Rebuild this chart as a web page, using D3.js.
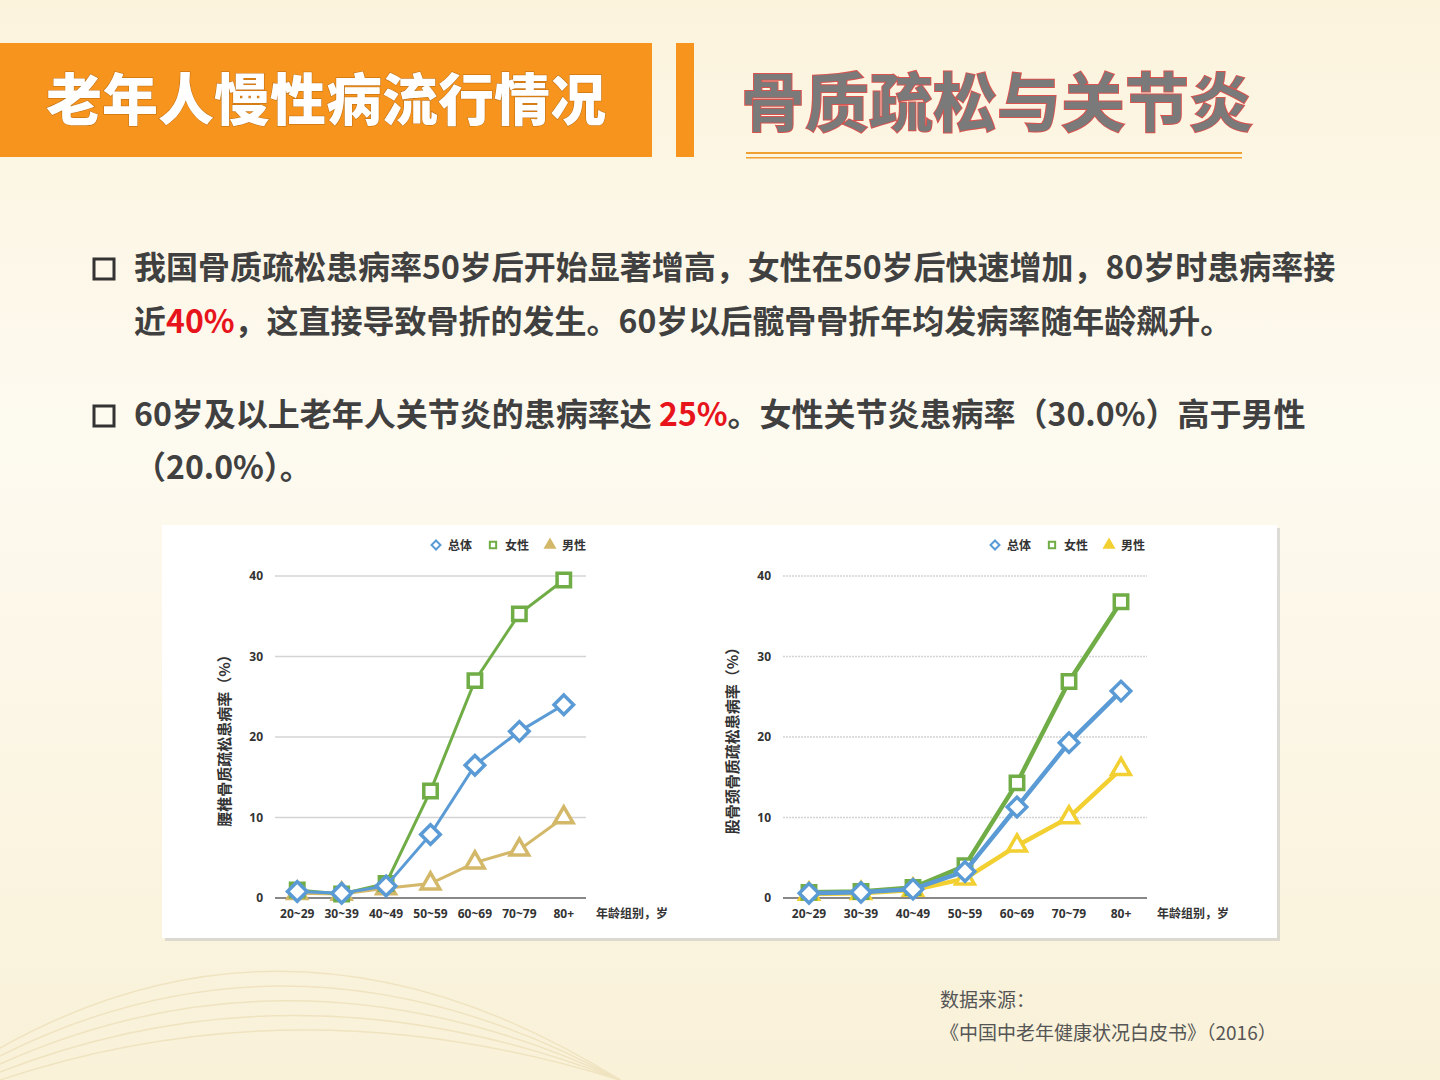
<!DOCTYPE html>
<html><head><meta charset="utf-8">
<script src="https://cdn.jsdelivr.net/npm/d3@7"></script>
<style>body{margin:0}svg{display:block}</style></head>
<body><svg id="c" width="1440" height="1080"></svg>
<script>
const ages = ['20-29','30-39','40-49','50-59','60-69','70-79','80+'];
const spineTotal = [0.8,0.6,1.5,7.9,16.5,20.7,24.0];
const spineFemale = [1.0,0.5,1.8,13.3,27.0,35.3,39.5];
const spineMale = [0.6,0.5,1.2,1.8,4.4,6.0,10.0];
const femurTotal = [0.6,0.7,1.1,3.3,11.3,19.3,25.7];
const femurFemale = [0.7,0.8,1.3,4.0,14.3,26.9,36.8];
const femurMale = [0.5,0.6,1.0,2.4,6.5,10.0,16.0];
const yTicks = [0,10,20,30,40];
const legendNames = ['总体','女性','男性'];

const svg = d3.select('#c');
const defs = svg.append('defs');
const bg = defs.append('linearGradient').attr('id','bg').attr('x1',0).attr('y1',0).attr('x2',0).attr('y2',1);
bg.append('stop').attr('offset','0%').attr('stop-color','#fbf3dc');
bg.append('stop').attr('offset','40%').attr('stop-color','#fdfaf0');
bg.append('stop').attr('offset','100%').attr('stop-color','#f9f1d8');
svg.append('rect').attr('width',1440).attr('height',1080).attr('fill','url(#bg)');
// faint decorative arcs
[0,1,2,3,4].forEach(i => svg.append('path')
  .attr('d',`M0 ${1080 - i*8} Q 300 ${980 - i*25} 620 1080`)
  .attr('fill','none').attr('stroke','#efe3c0').attr('stroke-width',1.5));

// header
svg.append('rect').attr('x',0).attr('y',43).attr('width',652).attr('height',114).attr('fill','#f7941d');
svg.append('rect').attr('x',676).attr('y',43).attr('width',18).attr('height',114).attr('fill','#f7941d');
svg.append('text').attr('x',46).attr('y',120).text('老年人慢性病流行情况')
  .attr('font-family','Noto Sans CJK SC').attr('font-weight',900).attr('font-size',56)
  .attr('fill','#fff').attr('stroke','#b86a10').attr('stroke-width',1).attr('paint-order','stroke');
svg.append('text').attr('x',741).attr('y',126).text('骨质疏松与关节炎')
  .attr('font-family','Noto Sans CJK SC').attr('font-weight',700).attr('font-size',64)
  .attr('fill','#7a7a7a').attr('stroke','#d9534f').attr('stroke-width',2).attr('paint-order','stroke');
svg.append('rect').attr('x',746).attr('y',152).attr('width',496).attr('height',2).attr('fill','#f0a030');
svg.append('rect').attr('x',746).attr('y',157).attr('width',496).attr('height',1.5).attr('fill','#f0a030');

// bullets
const bf = 'Noto Sans CJK SC';
function bullet(y){ svg.append('rect').attr('x',94).attr('y',y-20).attr('width',20).attr('height',20)
  .attr('fill','none').attr('stroke','#333').attr('stroke-width',3); }
function line(x,y,parts){
  const t = svg.append('text').attr('x',x).attr('y',y).attr('font-family',bf).attr('font-weight',700).attr('font-size',32).attr('fill','#404040');
  parts.forEach(p => t.append('tspan').text(p[0]).attr('fill',p[1]||'#404040'));
}
bullet(279);
line(134,279,[['我国骨质疏松患病率50岁后开始显著增高，女性在50岁后快速增加，80岁时患病率接']]);
line(134,333,[['近'],['40%','#e8141c'],['，这直接导致骨折的发生。60岁以后髋骨骨折年均发病率随年龄飙升。']]);
bullet(426);
line(134,426,[['60岁及以上老年人关节炎的患病率达 '],['25%','#e8141c'],['。女性关节炎患病率（30.0%）高于男性']]);
line(134,479,[['（20.0%）。']]);

// chart panel
svg.append('rect').attr('x',165).attr('y',528).attr('width',1115).attr('height',413).attr('fill','#c8c8c8').attr('opacity',0.6);
svg.append('rect').attr('x',162).attr('y',525).attr('width',1115).attr('height',413).attr('fill','#fff');

const colors = {total:'#5b9bd5', female:'#70ad47'};
function chart(o){
  const g = svg.append('g');
  const x = d3.scalePoint().domain(ages).range([o.x0,o.x1]).padding(0.5);
  const y = d3.scaleLinear().domain([0,40]).range([898,576]);
  yTicks.forEach(t => {
    g.append('line').attr('x1',x.range()[0]).attr('x2',x.range()[1]).attr('y1',y(t)).attr('y2',y(t))
      .attr('stroke',t===0?'#888':'#d4d4d4').attr('stroke-width',t===0?2:1.5)
      .attr('stroke-dasharray',(o.dotted&&t>0)?'2,1':null);
    g.append('text').attr('x',x.range()[0]-12).attr('y',y(t)+4).attr('text-anchor','end')
      .attr('font-family','Noto Sans').attr('font-weight',700).attr('font-size',12).attr('fill','#333').text(t);
  });
  ages.forEach(a => g.append('text').attr('x',x(a)).attr('y',918).attr('text-anchor','middle')
    .attr('font-family','Noto Sans').attr('font-weight',700).attr('font-size',12).attr('fill','#333').text(a.replace('-','~')));
  g.append('text').attr('x',x.range()[1]+10).attr('y',918).attr('font-family',bf).attr('font-weight',700)
    .attr('font-size',12).attr('fill','#333').text('年龄组别，岁');
  const yl = (x.range()[0]-45);
  g.append('text').attr('transform',`translate(${yl},${(576+898)/2}) rotate(-90)`).attr('text-anchor','middle')
    .attr('font-family',bf).attr('font-weight',700).attr('font-size',15).attr('fill','#333').text(o.ylabel);
  const ln = d3.line().x((d,i)=>x(ages[i])).y(d=>y(d));
  const series = [
    {v:o.male,c:o.maleColor,sym:d3.symbolTriangle,s:150,rot:0},
    {v:o.female,c:colors.female,sym:d3.symbolSquare,s:180,rot:0},
    {v:o.total,c:colors.total,sym:d3.symbolSquare,s:190,rot:45}
  ];
  series.forEach(s => {
    g.append('path').attr('d',ln(s.v)).attr('fill','none').attr('stroke',s.c).attr('stroke-width',o.sw);
    s.v.forEach((d,i) => g.append('path').attr('d',d3.symbol(s.sym,s.s)())
      .attr('transform',`translate(${x(ages[i])},${y(d)}) rotate(${s.rot})`).attr('fill','#fff').attr('stroke',s.c).attr('stroke-width',3.5));
  });
  // legend
  const ls = [[d3.symbolSquare,colors.total,45],[d3.symbolSquare,colors.female,0],[d3.symbolTriangle,o.maleColor,0]];
  let lx = o.lx;
  ls.forEach((l,i) => {
    g.append('path').attr('d',d3.symbol(l[0],40)()).attr('transform',`translate(${lx},545) rotate(${l[2]})`)
      .attr('fill',i===2?l[1]:'#fff').attr('stroke',l[1]).attr('stroke-width',2);
    g.append('text').attr('x',lx+12).attr('y',550).attr('font-family',bf).attr('font-weight',700)
      .attr('font-size',12).attr('fill','#333').text(legendNames[i]);
    lx += 57;
  });
}
chart({x0:275,x1:586,ylabel:'腰椎骨质疏松患病率（%）',total:spineTotal,female:spineFemale,male:spineMale,
  maleColor:'#d4b86a',sw:3,lx:436,dotted:false});
chart({x0:783,x1:1147,ylabel:'股骨颈骨质疏松患病率（%）',total:femurTotal,female:femurFemale,male:femurMale,
  maleColor:'#f2d031',sw:4.5,lx:995,dotted:true});

// source
svg.append('text').attr('x',940).attr('y',1007).attr('font-family',bf).attr('font-size',19).attr('fill','#555').text('数据来源：');
svg.append('text').attr('x',940).attr('y',1040).attr('font-family',bf).attr('font-size',19).attr('fill','#555').text('《中国中老年健康状况白皮书》（2016）');
</script></body></html>
